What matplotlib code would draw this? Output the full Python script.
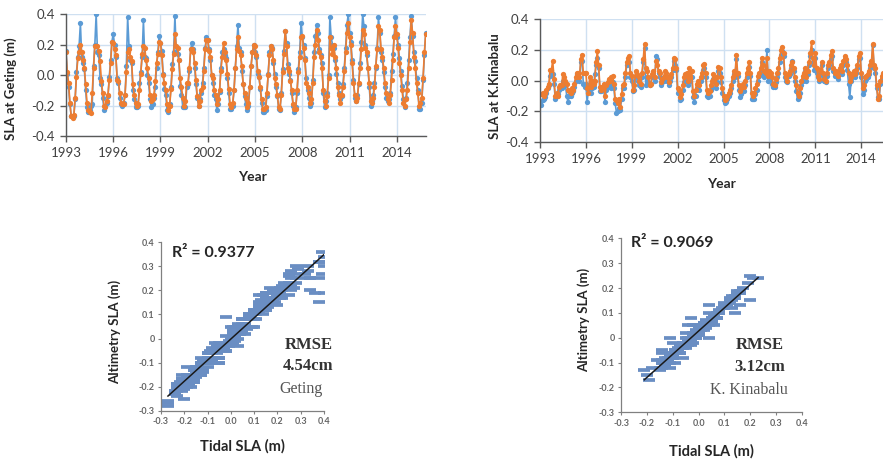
import numpy as np
import matplotlib
matplotlib.use("Agg")
import matplotlib.pyplot as plt
from matplotlib.ticker import FormatStrFormatter

plt.rcParams['font.family'] = ['Lato', 'DejaVu Sans']

# monthly SLA (m), Jan 1993 .. Nov 2015
geting_tidal = [
    0.16, 0.01, -0.08, -0.19, -0.27, -0.27, -0.27, -0.16, 0.02, 0.12, 0.19, 0.34,
    0.12, 0.08, 0.04, -0.10, -0.21, -0.24, -0.23, -0.20, -0.19, 0.06, 0.20, 0.40,
    0.15, 0.13, -0.02, -0.06, -0.15, -0.23, -0.20, -0.18, -0.14, -0.01, 0.10, 0.22,
    0.27, 0.20, 0.12, -0.02, -0.05, -0.15, -0.19, -0.20, -0.18, -0.13, 0.06, 0.38,
    0.19, 0.10, 0.08, -0.10, -0.16, -0.21, -0.21, -0.20, -0.05, 0.02, 0.12, 0.36,
    0.12, 0.11, 0.00, -0.05, -0.16, -0.21, -0.19, -0.15, -0.08, 0.05, 0.15, 0.26,
    0.21, 0.16, 0.01, -0.09, -0.13, -0.23, -0.24, -0.19, -0.08, 0.07, 0.15, 0.39,
    0.15, 0.14, 0.10, -0.07, -0.13, -0.21, -0.21, -0.21, -0.08, -0.06, 0.03, 0.17,
    0.21, 0.17, 0.05, -0.06, -0.15, -0.20, -0.16, -0.12, -0.05, 0.05, 0.18, 0.25,
    0.23, 0.17, 0.10, 0.00, -0.05, -0.13, -0.16, -0.23, -0.19, -0.11, 0.05, 0.15,
    0.17, 0.13, 0.11, -0.02, -0.12, -0.22, -0.22, -0.20, -0.10, 0.05, 0.19, 0.33,
    0.18, 0.15, 0.03, -0.06, -0.14, -0.19, -0.23, -0.20, -0.08, 0.06, 0.15, 0.20,
    0.15, 0.12, 0.01, -0.01, -0.09, -0.18, -0.24, -0.24, -0.23, -0.14, 0.01, 0.15,
    0.19, 0.18, 0.08, 0.01, -0.08, -0.14, -0.22, -0.23, -0.12, 0.04, 0.16, 0.29,
    0.21, 0.07, 0.01, -0.03, -0.12, -0.20, -0.24, -0.21, -0.12, 0.04, 0.15, 0.34,
    0.25, 0.20, 0.11, -0.02, -0.10, -0.15, -0.20, -0.18, -0.03, 0.15, 0.26, 0.33,
    0.28, 0.17, 0.13, 0.08, -0.12, -0.21, -0.17, -0.12, 0.00, 0.38, 0.25, 0.20,
    0.18, 0.10, 0.01, -0.05, -0.12, -0.16, -0.14, -0.06, 0.05, 0.18, 0.33, 0.40,
    0.28, 0.22, 0.10, -0.03, -0.15, -0.17, -0.13, -0.06, 0.08, 0.22, 0.40, 0.32,
    0.20, 0.13, 0.05, -0.08, -0.20, -0.17, -0.13, -0.05, 0.05, 0.18, 0.38, 0.28,
    0.15, 0.10, 0.02, -0.08, -0.15, -0.17, -0.16, -0.12, 0.03, 0.14, 0.26, 0.38,
    0.25, 0.20, 0.11, 0.03, -0.07, -0.16, -0.21, -0.15, -0.05, 0.10, 0.25, 0.39,
    0.26, 0.15, 0.09, -0.02, -0.10, -0.22, -0.22, -0.18, -0.03, 0.13, 0.28,
]
geting_alt = [
    0.15, 0.02, -0.05, -0.18, -0.27, -0.28, -0.26, -0.15, -0.01, 0.11, 0.15, 0.20,
    0.15, 0.10, 0.05, -0.06, -0.18, -0.23, -0.24, -0.25, -0.12, 0.05, 0.19, 0.19,
    0.19, 0.16, 0.09, -0.04, -0.12, -0.20, -0.21, -0.17, -0.13, -0.03, 0.08, 0.22,
    0.21, 0.17, 0.13, -0.03, -0.04, -0.12, -0.18, -0.19, -0.19, -0.13, 0.02, 0.15,
    0.17, 0.12, 0.09, -0.06, -0.13, -0.18, -0.20, -0.19, -0.10, 0.01, 0.14, 0.19,
    0.18, 0.10, 0.05, -0.02, -0.13, -0.17, -0.16, -0.13, -0.04, 0.08, 0.14, 0.22,
    0.21, 0.13, 0.00, -0.05, -0.10, -0.19, -0.23, -0.20, -0.09, 0.04, 0.14, 0.27,
    0.19, 0.18, 0.10, -0.02, -0.08, -0.15, -0.20, -0.17, -0.05, -0.05, 0.05, 0.17,
    0.17, 0.15, 0.08, -0.03, -0.14, -0.20, -0.17, -0.10, -0.08, 0.03, 0.17, 0.23,
    0.23, 0.16, 0.12, 0.00, -0.02, -0.10, -0.13, -0.19, -0.16, -0.10, 0.03, 0.12,
    0.21, 0.15, 0.10, 0.01, -0.09, -0.19, -0.21, -0.18, -0.10, 0.05, 0.17, 0.25,
    0.16, 0.13, 0.06, -0.06, -0.12, -0.15, -0.21, -0.18, -0.08, 0.06, 0.15, 0.20,
    0.19, 0.13, 0.03, -0.01, -0.08, -0.16, -0.22, -0.22, -0.21, -0.12, 0.00, 0.13,
    0.19, 0.17, 0.10, -0.02, -0.06, -0.13, -0.21, -0.22, -0.13, 0.02, 0.14, 0.29,
    0.19, 0.05, 0.03, -0.04, -0.10, -0.19, -0.22, -0.22, -0.10, 0.02, 0.12, 0.25,
    0.26, 0.18, 0.10, -0.05, -0.08, -0.12, -0.18, -0.16, -0.05, 0.12, 0.20, 0.30,
    0.23, 0.15, 0.12, 0.05, -0.10, -0.17, -0.20, -0.14, -0.02, 0.25, 0.18, 0.14,
    0.20, 0.12, 0.05, -0.08, -0.13, -0.18, -0.13, -0.08, 0.03, 0.15, 0.28, 0.34,
    0.25, 0.20, 0.08, -0.05, -0.13, -0.17, -0.15, -0.05, 0.05, 0.17, 0.30, 0.27,
    0.18, 0.15, 0.05, -0.05, -0.17, -0.18, -0.15, -0.08, 0.06, 0.17, 0.32, 0.30,
    0.17, 0.12, 0.05, -0.05, -0.12, -0.16, -0.18, -0.13, -0.03, 0.10, 0.25, 0.32,
    0.27, 0.18, 0.08, 0.00, -0.10, -0.18, -0.20, -0.16, -0.10, 0.05, 0.22, 0.36,
    0.28, 0.12, 0.05, -0.05, -0.12, -0.20, -0.18, -0.15, -0.02, 0.15, 0.27,
]
kk_tidal = [
    -0.14, -0.16, -0.13, -0.12, -0.11, -0.08, -0.05, -0.03, 0.03, 0.05, 0.04, -0.02,
    -0.12, -0.10, -0.09, -0.06, -0.05, -0.05, 0.00, -0.02, -0.03, -0.10, -0.14, -0.10,
    -0.10, -0.08, -0.07, -0.04, 0.00, 0.04, 0.02, 0.00, 0.12, 0.13, -0.02, -0.04,
    -0.02, -0.14, -0.06, -0.02, -0.08, -0.05, -0.04, 0.04, 0.10, 0.15, 0.08, -0.07,
    -0.07, -0.06, -0.05, -0.14, -0.06, -0.04, -0.02, -0.03, -0.05, -0.01, -0.05, -0.15,
    -0.21, -0.20, -0.18, -0.19, -0.12, -0.05, -0.05, 0.02, 0.10, 0.12, 0.12, 0.02,
    0.00, -0.07, -0.06, 0.03, 0.02, 0.00, -0.03, -0.04, 0.02, 0.12, 0.21, -0.03,
    0.02, -0.01, -0.03, -0.02, 0.02, 0.03, 0.00, 0.16, 0.14, 0.05, 0.02, -0.03,
    -0.01, 0.00, 0.03, 0.03, 0.00, -0.03, 0.00, 0.02, 0.07, 0.13, 0.10, 0.07,
    -0.08, -0.08, -0.13, -0.12, -0.06, -0.01, 0.01, 0.00, -0.03, 0.05, 0.00, 0.02,
    -0.11, -0.14, -0.10, -0.05, -0.03, -0.06, 0.00, 0.02, 0.07, 0.08, 0.02, -0.10,
    -0.11, -0.10, -0.06, -0.04, 0.01, -0.01, -0.05, -0.01, 0.06, 0.05, -0.01, -0.08,
    -0.13, -0.15, -0.14, -0.12, -0.10, -0.08, -0.05, 0.00, 0.04, 0.02, 0.14, 0.03,
    -0.06, -0.11, -0.09, -0.06, -0.07, -0.03, 0.02, 0.05, 0.09, 0.03, -0.12, -0.12,
    -0.12, -0.09, -0.06, 0.00, 0.03, 0.05, 0.12, 0.04, 0.02, 0.06, 0.20, 0.00,
    0.04, 0.02, -0.02, -0.04, -0.04, -0.01, 0.02, 0.05, 0.12, 0.17, 0.19, 0.16,
    0.02, 0.00, -0.01, 0.03, 0.04, 0.08, 0.13, 0.06, 0.00, -0.07, -0.12, -0.11,
    -0.08, -0.03, 0.00, 0.03, 0.06, 0.00, 0.04, 0.10, 0.16, 0.20, 0.12, 0.07,
    0.15, 0.05, 0.02, 0.00, 0.04, 0.10, 0.03, 0.00, -0.01, 0.03, 0.08, 0.10,
    0.14, 0.16, 0.06, 0.03, 0.04, 0.03, 0.01, 0.06, 0.08, 0.04, 0.10, 0.14,
    0.12, 0.07, -0.02, -0.11, 0.00, 0.02, 0.04, 0.02, 0.05, 0.08, 0.14, 0.15,
    0.02, -0.09, -0.06, 0.00, 0.01, 0.02, 0.04, 0.08, 0.11, 0.23, 0.08, 0.05,
    -0.05, -0.11, -0.12, -0.02, 0.01, 0.03, 0.02, 0.04, 0.06, 0.08, 0.10,
]
kk_alt = [
    -0.09, -0.09, -0.08, -0.10, -0.08, -0.06, -0.04, -0.02, 0.07, 0.07, 0.13, 0.01,
    -0.10, -0.08, -0.10, -0.04, -0.03, -0.03, 0.04, 0.02, 0.00, -0.02, -0.06, -0.07,
    -0.08, -0.05, -0.06, -0.02, 0.02, 0.05, 0.05, 0.02, 0.14, 0.17, 0.05, 0.05,
    0.05, -0.05, -0.08, 0.02, -0.04, 0.00, -0.02, 0.00, 0.12, 0.19, 0.10, -0.04,
    -0.06, -0.04, -0.02, -0.10, -0.03, -0.01, 0.01, 0.00, 0.02, 0.03, -0.02, -0.12,
    -0.13, -0.15, -0.12, -0.17, -0.09, -0.03, -0.02, 0.05, 0.12, 0.15, 0.16, 0.05,
    0.03, -0.06, -0.03, 0.06, 0.04, 0.03, 0.00, -0.02, 0.05, 0.14, 0.24, 0.08,
    0.06, 0.02, -0.03, -0.02, 0.04, 0.06, 0.02, 0.13, 0.10, 0.06, 0.05, -0.01,
    0.01, 0.02, 0.06, 0.05, 0.02, -0.01, 0.02, 0.04, 0.08, 0.15, 0.14, 0.08,
    -0.05, -0.06, -0.11, -0.09, -0.03, 0.02, 0.04, 0.05, 0.00, 0.08, 0.02, 0.06,
    -0.07, -0.10, -0.06, -0.02, 0.00, -0.03, 0.02, 0.05, 0.10, 0.11, 0.05, -0.06,
    -0.08, -0.07, -0.03, 0.00, 0.04, 0.02, -0.02, 0.02, 0.09, 0.08, 0.02, -0.05,
    -0.10, -0.13, -0.12, -0.10, -0.08, -0.06, -0.03, 0.02, 0.06, 0.04, 0.17, 0.05,
    -0.03, -0.07, -0.05, -0.02, -0.04, 0.00, 0.05, 0.08, 0.12, 0.05, -0.08, -0.10,
    -0.08, -0.05, -0.02, 0.03, 0.05, 0.08, 0.15, 0.10, 0.06, 0.05, 0.15, 0.03,
    0.06, 0.05, 0.02, -0.02, -0.03, 0.01, 0.05, 0.08, 0.15, 0.20, 0.22, 0.18,
    0.05, 0.02, 0.00, 0.04, 0.06, 0.10, 0.12, 0.08, 0.02, -0.03, -0.08, -0.10,
    -0.05, 0.00, 0.03, 0.05, 0.08, 0.02, 0.06, 0.12, 0.18, 0.25, 0.15, 0.10,
    0.18, 0.08, 0.03, 0.01, 0.06, 0.12, 0.05, 0.01, 0.00, 0.05, 0.10, 0.12,
    0.17, 0.19, 0.08, 0.05, 0.06, 0.05, 0.03, 0.08, 0.10, 0.06, 0.13, 0.16,
    0.14, 0.10, 0.05, 0.00, 0.02, 0.04, 0.06, 0.04, 0.07, 0.10, 0.16, 0.18,
    0.05, -0.05, -0.03, 0.02, 0.03, 0.04, 0.06, 0.10, 0.13, 0.24, 0.10, 0.08,
    -0.03, -0.12, -0.10, 0.00, 0.03, 0.05, 0.04, 0.06, 0.08, 0.10, 0.12,
]
year_ticks = [1993, 1996, 1999, 2002, 2005, 2008, 2011, 2014]
sites = ["Geting", "K. Kinabalu"]
r2_labels = ["R\u00b2 = 0.9377", "R\u00b2 = 0.9069"]
rmse_labels = ["4.54cm", "3.12cm"]

BLUE = '#5B9BD5'
ORANGE = '#ED7D31'
GRID = '#cfe0f1'
AXC = '#595959'

fig = plt.figure(figsize=(8.83, 4.61), dpi=100)

t = 1993 + np.arange(len(geting_alt)) / 12.0


def ts_panel(rect, tidal, alt, ylabel, xmax, ylab_pos, year_pos):
    ax = fig.add_axes(rect)
    ax.plot(t, tidal, color=BLUE, lw=1.2, marker='o', ms=3.8, mew=0)
    ax.plot(t, alt, color=ORANGE, lw=1.2, marker='o', ms=3.8, mew=0)
    ax.set_xlim(1993, xmax)
    ax.set_ylim(-0.4, 0.4)
    ax.set_xticks(year_ticks)
    ax.set_yticks([-0.4, -0.2, 0.0, 0.2, 0.4])
    ax.yaxis.set_major_formatter(FormatStrFormatter('%.1f'))
    ax.grid(True, color=GRID, lw=1)
    ax.set_axisbelow(True)
    for s in ['top', 'right']:
        ax.spines[s].set_visible(False)
    for s in ['left', 'bottom']:
        ax.spines[s].set_color(AXC)
        ax.spines[s].set_linewidth(1)
    ax.tick_params(direction='out', length=4, width=1, color=AXC,
                   labelsize=9.5, labelcolor='#404040', pad=4)
    ax.set_ylabel(ylabel, fontsize=9.5, fontweight='bold', color='#262626')
    ax.yaxis.set_label_coords(*ylab_pos)
    ax.set_xlabel("Year", fontsize=10, fontweight='bold', color='#262626')
    ax.xaxis.set_label_coords(*year_pos)
    return ax


ts_panel([0.0747, 0.705, 0.4077, 0.264], geting_tidal, geting_alt,
         "SLA at Geting (m)", 2015.85, (-0.135, 0.39), (0.517, -0.29))
ts_panel([0.6115, 0.6926, 0.3885, 0.2655], kk_tidal, kk_alt,
         "SLA at K.Kinabalu", 1993 + 343 / 15.3, (-0.115, 0.455), (0.53, -0.30))


def scatter_panel(rect, x, y, r2, rmse, site, ylab_pos, xlab_y, r2_pos, rm_pos,
                  site_pos):
    ax = fig.add_axes(rect)
    ax.plot(x, y, linestyle='none', marker='_', ms=9, mew=2.7, color='#6a8ec3')
    k, b = np.polyfit(x, y, 1)
    xs = np.array([min(x), max(x)])
    ax.plot(xs, k * xs + b, color='#1a1a1a', lw=1.1)
    ax.set_xlim(-0.3, 0.4)
    ax.set_ylim(-0.3, 0.4)
    ax.set_xticks(np.arange(-0.3, 0.41, 0.1))
    ax.set_xticklabels(['-0.3', '-0.2', '-0.1', '0.0', '0.1', '0.2', '0.3', '0.4'])
    ax.set_yticks(np.arange(-0.3, 0.41, 0.1))
    ax.set_yticklabels(['-0.3', '-0.2', '-0.1', '0', '0.1', '0.2', '0.3', '0.4'])
    for s in ['top', 'right']:
        ax.spines[s].set_visible(False)
    for s in ['left', 'bottom']:
        ax.spines[s].set_color('#808080')
        ax.spines[s].set_linewidth(0.9)
    ax.tick_params(direction='out', length=2.5, width=0.8, color='#808080',
                   labelsize=6.5, labelcolor='#666666', pad=2)
    for lab in ax.get_xticklabels() + ax.get_yticklabels():
        lab.set_fontweight('bold')
    ax.set_xlabel("Tidal SLA (m)", fontsize=10.5, fontweight='bold', color='#262626')
    ax.xaxis.set_label_coords(0.5, xlab_y)
    ax.set_ylabel("Altimetry SLA (m)", fontsize=9.5, fontweight='bold', color='#262626')
    ax.yaxis.set_label_coords(*ylab_pos)
    ax.text(*r2_pos, r2, transform=ax.transAxes, fontsize=11.5, fontweight='bold',
            color='#262626', ha='left', va='center')
    ax.text(rm_pos[0], rm_pos[1], "RMSE", transform=ax.transAxes, fontsize=12,
            fontweight='bold', family='Liberation Serif', color='#333333',
            ha='center', va='center')
    ax.text(rm_pos[0], rm_pos[1] - 0.125, rmse, transform=ax.transAxes, fontsize=12,
            fontweight='bold', family='Liberation Serif', color='#333333',
            ha='center', va='center')
    ax.text(*site_pos, site, transform=ax.transAxes, fontsize=11.5,
            family='Liberation Serif', color='#555555', ha='center', va='center')
    return ax


scatter_panel([0.1823, 0.1091, 0.1846, 0.3653], geting_tidal, geting_alt,
              r2_labels[0], rmse_labels[0], sites[0], (-0.245, 0.467), -0.17,
              (0.067, 0.936), (0.905, 0.39), (0.86, 0.128))
scatter_panel([0.7033, 0.1056, 0.205, 0.3774], kk_tidal, kk_alt,
              r2_labels[1], rmse_labels[1], sites[1], (-0.17, 0.53), -0.185,
              (0.055, 0.973), (0.768, 0.387), (0.707, 0.128))

fig.savefig("out.png", dpi=100, facecolor='white')
